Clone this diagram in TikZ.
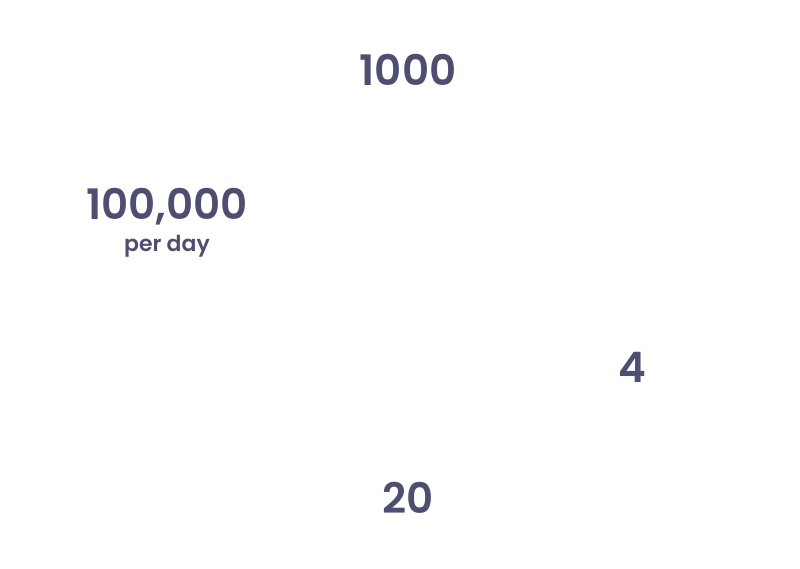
\documentclass[tikz,border=0pt]{standalone}
\usepackage{fontspec}
\setmainfont{Poppins}[BoldFont={Poppins SemiBold}]
\usetikzlibrary{positioning}
\definecolor{countslate}{RGB}{78,78,112}
\tikzset{
	count/.style={
		text=countslate,
		font=\fontsize{42}{46}\selectfont\bfseries,
		inner sep=0pt,
	},
	unit/.style={
		text=countslate,
		font=\fontsize{22}{26}\selectfont\bfseries,
		inner sep=0pt,
	},
}

\begin{document}
\begin{tikzpicture}[x=1pt,y=-1pt]
	\useasboundingbox (0,0) rectangle (800,568);

	\node [count] (top) at (408,70) {1000};

	\node [count] (left) at (167,207) {100,000};
	\node [
	  unit,
	  below=9pt of left
	] (leftunit) {per day};

	\node [count] (right) at (632,367) {4};

	\node [count] (bottom) at (408,498) {20};
\end{tikzpicture}
\end{document}
